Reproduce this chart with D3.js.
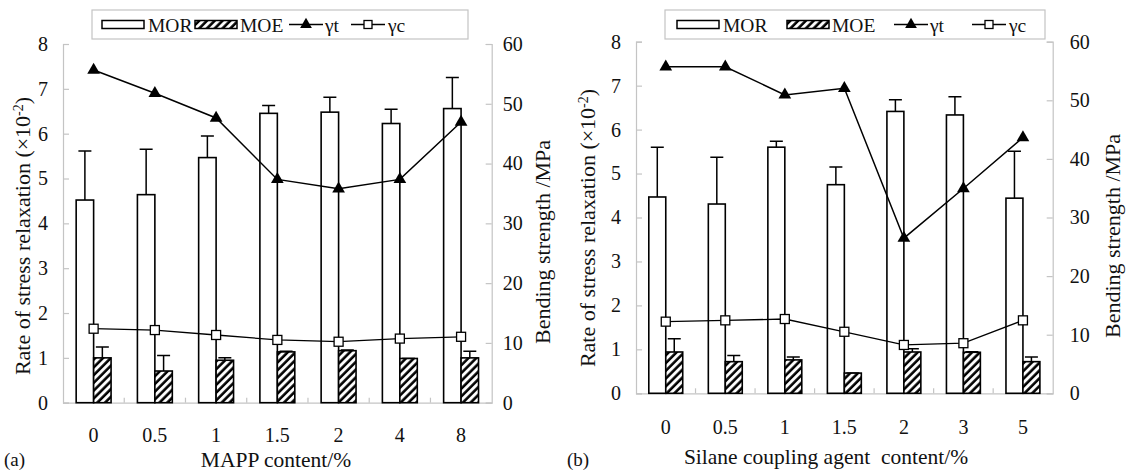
<!DOCTYPE html>
<html>
<head>
<meta charset="utf-8">
<script src="https://cdn.jsdelivr.net/npm/d3@7"></script>
<style>
  body { margin: 0; background: #fff; }
  svg text { font-family: "Liberation Serif", "DejaVu Serif", serif; fill: #111; }
</style>
</head>
<body>
<svg width="1130" height="472"></svg>
<script>
// panel (a): MAPP content
const catsA = ['0', '0.5', '1', '1.5', '2', '4', '8'];
const morA = [33.9, 34.8, 41.0, 48.4, 48.6, 46.7, 49.2];
const morErrA = [8.2, 7.6, 3.6, 1.3, 2.5, 2.4, 5.2];
const moeA = [7.5, 5.3, 7.1, 8.5, 8.7, 7.4, 7.5];
const moeErrA = [1.8, 2.6, 0.4, 0.1, 0.1, 0.0, 1.1];
const gtA = [7.42, 6.90, 6.35, 4.98, 4.77, 4.98, 6.26];
const gcA = [1.65, 1.62, 1.51, 1.40, 1.36, 1.43, 1.47];

// panel (b): silane coupling agent content
const catsB = ['0', '0.5', '1', '1.5', '2', '3', '5'];
const morB = [33.5, 32.3, 42.0, 35.6, 48.1, 47.5, 33.3];
const morErrB = [8.5, 8.0, 1.0, 3.0, 2.0, 3.1, 8.0];
const moeB = [7.05, 5.4, 5.7, 3.45, 7.05, 7.0, 5.4];
const moeErrB = [2.25, 1.05, 0.5, 0.0, 0.55, 0.1, 0.8];
const gtB = [7.43, 7.43, 6.79, 6.94, 3.53, 4.66, 5.82];
const gcB = [1.63, 1.66, 1.69, 1.40, 1.10, 1.14, 1.66];

const leftTicks = [0, 1, 2, 3, 4, 5, 6, 7, 8];
const rightTicks = [0, 10, 20, 30, 40, 50, 60];

const svg = d3.select('svg');
const gray = '#c4c4c4';
const fs = 20;
const serif = '"Liberation Serif", "DejaVu Serif", serif';

svg.append('rect').attr('width', 1130).attr('height', 472).attr('fill', '#fff');

// hatch for MOE
const pat = svg.append('defs').append('pattern')
    .attr('id', 'hatch')
    .attr('patternUnits', 'userSpaceOnUse')
    .attr('width', 5.5).attr('height', 5.5)
    .attr('patternTransform', 'rotate(45)');
pat.append('rect').attr('width', 5.5).attr('height', 5.5).attr('fill', '#fff');
pat.append('line').attr('x1', 1.5).attr('y1', 0).attr('x2', 1.5).attr('y2', 5.5)
    .attr('stroke', '#000').attr('stroke-width', 2.6);

const styleAxis = sel => {
    sel.attr('font-family', serif);
    sel.select('.domain').attr('stroke', gray).attr('stroke-width', 1.2);
    sel.selectAll('.tick line').attr('stroke', gray).attr('stroke-width', 1.2);
    sel.selectAll('text').attr('font-size', fs).attr('fill', '#111');
};

const drawPanel = p => {
    const g = svg.append('g').attr('font-family', serif);
    const x = d3.scaleBand().domain(p.cats).range([p.left, p.right]).padding(0);
    const yL = d3.scaleLinear().domain([0, 8]).range([p.bottom, p.top]);
    const yR = d3.scaleLinear().domain([0, 60]).range([p.bottom, p.top]);
    const bw = x.bandwidth();
    const gw = bw * 0.57;
    const sub = d3.scaleBand().domain(['MOR', 'MOE']).range([0, gw]);
    const off = (bw - gw) / 2;
    const cx = c => x(c) + bw / 2;

    // axes
    g.append('g').attr('transform', `translate(${p.left},0)`)
        .call(d3.axisLeft(yL).tickValues(leftTicks).tickSizeInner(-6).tickSizeOuter(-6).tickPadding(p.lpad))
        .call(styleAxis);
    g.append('g').attr('transform', `translate(${p.right},0)`)
        .call(d3.axisRight(yR).tickValues(rightTicks).tickSizeInner(-6).tickSizeOuter(-6).tickPadding(p.rpad))
        .call(styleAxis);
    g.append('g').attr('transform', `translate(0,${p.bottom})`)
        .call(d3.axisBottom(x).tickSize(0).tickPadding(p.bpad))
        .call(styleAxis);
    g.selectAll('.bnd').data(p.cats.slice(1)).enter().append('line')
        .attr('x1', d => x(d)).attr('x2', d => x(d))
        .attr('y1', p.bottom).attr('y2', p.bottom - 5)
        .attr('stroke', gray).attr('stroke-width', 1.2);

    const bars = [
        { key: 'MOR', vals: p.mor, errs: p.morErr, fill: '#fff' },
        { key: 'MOE', vals: p.moe, errs: p.moeErr, fill: 'url(#hatch)' }
    ];
    bars.forEach(s => {
        const bx = c => x(c) + off + sub(s.key);
        // error bars
        g.selectAll(null).data(p.cats).enter().append('path')
            .attr('d', (c, i) => {
                const mx = bx(c) + sub.bandwidth() / 2;
                const yt = yR(s.vals[i] + s.errs[i]);
                return `M${mx},${yR(s.vals[i])}V${yt}M${mx - 6.5},${yt}H${mx + 6.5}`;
            })
            .attr('fill', 'none').attr('stroke', '#000').attr('stroke-width', 1.5);
        g.selectAll(null).data(p.cats).enter().append('rect')
            .attr('x', c => bx(c))
            .attr('y', (c, i) => yR(s.vals[i]))
            .attr('width', sub.bandwidth())
            .attr('height', (c, i) => p.bottom - yR(s.vals[i]))
            .attr('fill', s.fill).attr('stroke', '#000').attr('stroke-width', 1.6);
    });

    // lines
    const line = vals => d3.line().x((d, i) => cx(p.cats[i])).y(d => yL(d))(vals);
    g.append('path').attr('d', line(p.gt)).attr('fill', 'none').attr('stroke', '#000').attr('stroke-width', 1.5);
    g.append('path').attr('d', line(p.gc)).attr('fill', 'none').attr('stroke', '#000').attr('stroke-width', 1.3);
    g.selectAll(null).data(p.gt).enter().append('path')
        .attr('d', d3.symbol(d3.symbolTriangle, 70))
        .attr('transform', (d, i) => `translate(${cx(p.cats[i])},${yL(d)})`)
        .attr('fill', '#000');
    g.selectAll(null).data(p.gc).enter().append('rect')
        .attr('x', (d, i) => cx(p.cats[i]) - 4.5).attr('y', d => yL(d) - 4.5)
        .attr('width', 9).attr('height', 9)
        .attr('fill', '#fff').attr('stroke', '#000').attr('stroke-width', 1.3);

    // axis titles
    const lt = g.append('text')
        .attr('transform', `translate(${p.ltx},${p.lty}) rotate(-90)`)
        .attr('text-anchor', 'middle').attr('font-size', 22);
    lt.append('tspan').text('Rate of stress relaxation (\u00d710');
    lt.append('tspan').attr('baseline-shift', 'super').attr('font-size', 14).text('-2');
    lt.append('tspan').text(')');
    g.append('text')
        .attr('transform', `translate(${p.rtx},${p.rty}) rotate(-90)`)
        .attr('text-anchor', 'middle').attr('font-size', 22)
        .text('Bending strength /MPa');
    g.append('text').attr('x', p.xtx).attr('y', p.xty)
        .attr('text-anchor', 'middle').attr('font-size', 21.5)
        .attr('xml:space', 'preserve')
        .text(p.xTitle);
    g.append('text').attr('x', p.tagX).attr('y', 466).attr('font-size', 19).text(p.tag);

    // legend
    const L = p.leg;
    g.append('rect').attr('x', L.x0).attr('y', 10).attr('width', L.x1 - L.x0).attr('height', 29)
        .attr('fill', '#fff').attr('stroke', gray).attr('stroke-width', 1.2);
    const ly = 24.5;
    g.append('rect').attr('x', L.mor).attr('y', ly - 4).attr('width', 42).attr('height', 8)
        .attr('fill', '#fff').attr('stroke', '#000').attr('stroke-width', 1.5);
    g.append('rect').attr('x', L.moe).attr('y', ly - 4).attr('width', 42).attr('height', 8)
        .attr('fill', 'url(#hatch)').attr('stroke', '#000').attr('stroke-width', 1.5);
    g.append('line').attr('x1', L.gt).attr('x2', L.gt + 34).attr('y1', ly).attr('y2', ly)
        .attr('stroke', '#000').attr('stroke-width', 1.5);
    g.append('path').attr('d', d3.symbol(d3.symbolTriangle, 60))
        .attr('transform', `translate(${L.gt + 17},${ly})`).attr('fill', '#000');
    g.append('line').attr('x1', L.gc).attr('x2', L.gc + 34).attr('y1', ly).attr('y2', ly)
        .attr('stroke', '#000').attr('stroke-width', 1.3);
    g.append('rect').attr('x', L.gc + 13).attr('y', ly - 4).attr('width', 8).attr('height', 8)
        .attr('fill', '#fff').attr('stroke', '#000').attr('stroke-width', 1.3);
    [['MOR', L.mor + 46], ['MOE', L.moe + 45], ['\u03b3t', L.gt + 36], ['\u03b3c', L.gc + 37]]
        .forEach(([t, tx]) => {
            g.append('text').attr('x', tx).attr('y', ly + 7).attr('font-size', 19.5).text(t);
        });
};

drawPanel({
    cats: catsA, mor: morA, morErr: morErrA, moe: moeA, moeErr: moeErrA, gt: gtA, gc: gcA,
    left: 63, right: 491.7, top: 44, bottom: 402.7,
    lpad: 15, rpad: 11, bpad: 25,
    ltx: 30, lty: 236, rtx: 550, rty: 242,
    xtx: 276, xty: 467, xTitle: 'MAPP content/%',
    tag: '(a)', tagX: 4,
    leg: { x0: 92, x1: 468, mor: 102, moe: 195, gt: 289, gc: 351 }
});

drawPanel({
    cats: catsB, mor: morB, morErr: morErrB, moe: moeB, moeErr: moeErrB, gt: gtB, gc: gcB,
    left: 636, right: 1052.7, top: 41.7, bottom: 393.3,
    lpad: 15, rpad: 17, bpad: 27,
    ltx: 595, lty: 228, rtx: 1120, rty: 236,
    xtx: 826, xty: 464, xTitle: 'Silane coupling agent  content/%',
    tag: '(b)', tagX: 567,
    leg: { x0: 665, x1: 1045, mor: 677, moe: 787, gt: 894, gc: 972 }
});
</script>
</body>
</html>
